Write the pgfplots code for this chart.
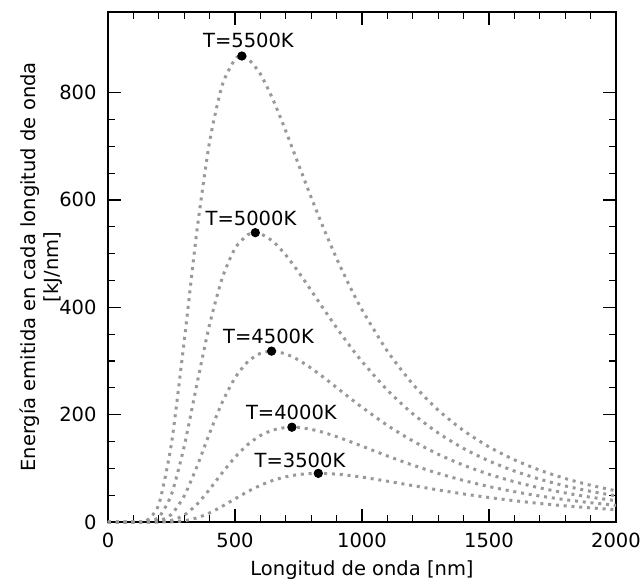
\documentclass[border=0pt]{standalone}
\usepackage{fontspec}
\setmainfont{DejaVu Sans}
\usepackage{pgfplots}
\pgfplotsset{compat=1.18}

\definecolor{curvegray}{RGB}{153,153,153}
\pgfplotsset{planck/.style={curvegray, no markers, line width=1.5pt, dash pattern=on 1.5pt off 2.4pt, smooth, tension=0.4}}

\begin{document}
\begin{tikzpicture}
\begin{axis}[
  scale only axis,
  width=254pt, height=255pt,
  xmin=0, xmax=2000, ymin=0, ymax=950,
  xtick={0,500,1000,1500,2000},
  ytick={0,200,400,600,800},
  minor x tick num=4, minor y tick num=3,
  tick align=inside, tick pos=both,
  major tick length=6.5pt, minor tick length=3.3pt,
  every major tick/.append style={black, line width=0.75pt},
  every minor tick/.append style={black, line width=0.55pt},
  axis line style={line width=0.75pt},
  scaled ticks=false,
  /pgf/number format/1000 sep={},
  /pgf/number format/assume math mode=true,
  tick label style={font=\fontsize{9.75}{11.7}\selectfont},
  xticklabel style={yshift=-2.2pt},
  yticklabel style={xshift=-2.2pt},
  xlabel={Longitud de onda [nm]},
  xlabel style={font=\fontsize{9.75}{11.7}\selectfont, at={(axis description cs:0.5,0)}, anchor=base, yshift=-26.5pt},
  ylabel={Energía emitida en cada longitud de onda\\{}[kJ/nm]},
  ylabel style={font=\fontsize{9.75}{11.7}\selectfont, align=center, at={(axis description cs:-0.132,0.5)}, anchor=center},
  clip=false,
]
% T = 5500 K
\addplot[planck] coordinates {(0,0) (50,0) (100,0) (150,1.8) (200,32.7) (250,146.6) (300,337.0) (350,542.1) (400,708.4) (450,814.3) (500,862.0) (527,868.0) (550,864.0) (600,834.7) (650,786.4) (700,728.2) (750,666.2) (800,604.6) (850,545.8) (900,491.0) (950,440.9) (1000,395.4) (1100,318.2) (1200,256.8) (1300,208.4) (1400,170.2) (1500,139.9) (1600,115.8) (1700,96.5) (1800,81.0) (1900,68.4) (2000,58.1)};
% T = 5000 K
\addplot[planck] coordinates {(0,0) (50,0) (100,0) (150,0.3) (200,8.8) (250,51.5) (300,140.9) (350,256.7) (400,368.1) (450,454.7) (500,509.7) (550,535.2) (580,539.0) (600,537.3) (650,522.6) (700,497.3) (750,465.7) (800,431.2) (850,396.1) (900,361.9) (950,329.3) (1000,299.0) (1100,245.5) (1200,201.5) (1300,165.8) (1400,136.9) (1500,113.7) (1600,94.9) (1700,79.7) (1800,67.2) (1900,57.1) (2000,48.7)};
% T = 4500 K
\addplot[planck] coordinates {(0,0) (50,0) (100,0) (150,0) (200,1.8) (250,14.3) (300,48.5) (350,103.0) (400,165.4) (450,223.3) (500,268.5) (550,298.6) (600,314.3) (644,318.3) (650,318.1) (700,313.1) (750,301.8) (800,286.5) (850,269.0) (900,250.5) (950,231.9) (1000,213.7) (1100,180.0) (1200,150.9) (1300,126.2) (1400,105.8) (1500,88.9) (1600,75.0) (1700,63.5) (1800,54.1) (1900,46.2) (2000,39.7)};
% T = 4000 K
\addplot[planck] coordinates {(0,0) (50,0) (100,0) (150,0) (200,0.2) (250,2.9) (300,12.8) (350,32.9) (400,60.9) (450,91.8) (500,120.6) (550,144.1) (600,161.1) (650,171.4) (700,176.1) (724,176.6) (750,176.1) (800,172.6) (850,166.6) (900,159.0) (950,150.4) (1000,141.3) (1100,123.0) (1200,105.9) (1300,90.6) (1400,77.3) (1500,66.0) (1600,56.5) (1700,48.4) (1800,41.6) (1900,35.9) (2000,31.1)};
% T = 3500 K
\addplot[planck] coordinates {(0,0) (50,0) (100,0) (150,0) (200,0) (250,0.4) (300,2.3) (350,7.6) (400,16.9) (450,29.3) (500,43.1) (550,56.6) (600,68.3) (650,77.6) (700,84.2) (750,88.4) (800,90.3) (828,90.6) (850,90.4) (900,89.1) (950,86.7) (1000,83.6) (1100,76.0) (1200,67.8) (1300,59.7) (1400,52.2) (1500,45.6) (1600,39.7) (1700,34.5) (1800,30.1) (1900,26.3) (2000,23.0)};
% maxima of each curve
\addplot[only marks, mark=*, mark size=2.1pt, black, mark options={solid, fill=black}] coordinates {(527,868.0) (580,539.0) (644,318.3) (724,176.6) (828,90.6)};
\begin{scope}[every node/.style={font=\fontsize{9.75}{11.7}\selectfont, inner sep=0pt, anchor=center}]
\node at (axis cs:553,898) {T=5500K};
\node at (axis cs:563,566) {T=5000K};
\node at (axis cs:632,345) {T=4500K};
\node at (axis cs:722,204) {T=4000K};
\node at (axis cs:756,115.5) {T=3500K};
\end{scope}
\end{axis}
\pgfresetboundingbox
\path[use as bounding box] (-54pt,-31.5pt) rectangle (268pt,261pt);
\end{tikzpicture}
\end{document}
